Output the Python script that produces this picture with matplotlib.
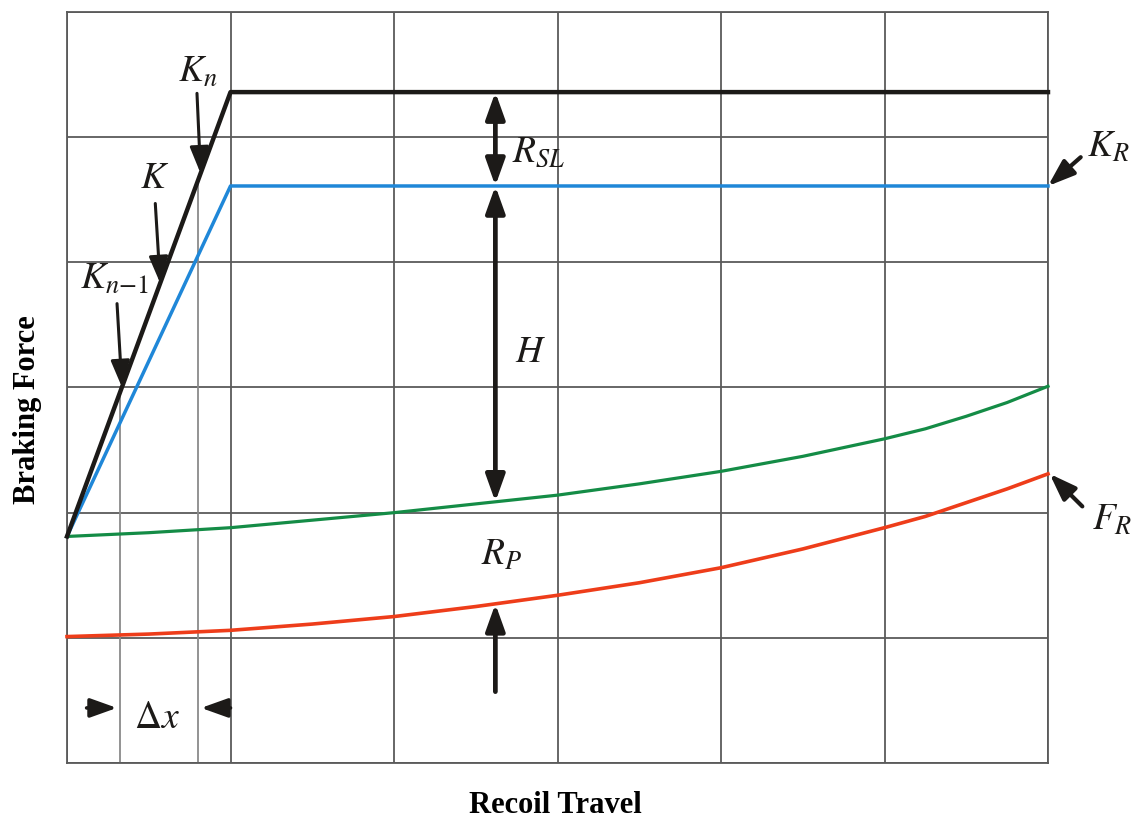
import numpy as np
import matplotlib
matplotlib.use('Agg')
import matplotlib.pyplot as plt

plt.rcParams['font.family'] = ['Liberation Serif', 'DejaVu Serif']
plt.rcParams['mathtext.fontset'] = 'stix'

# Recoil travel stations (grid units) and force levels
travel = [0, 0.5, 1, 1.5, 2, 2.5, 3, 3.5, 4, 4.5, 5, 5.25, 5.5, 5.75, 6]
green_force = [1.81, 1.84, 1.88, 1.94, 2.00, 2.07, 2.14, 2.23, 2.33, 2.45,
               2.59, 2.67, 2.77, 2.88, 3.01]
fr_force = [1.01, 1.03, 1.06, 1.11, 1.17, 1.25, 1.34, 1.44, 1.56, 1.71,
            1.88, 1.97, 2.08, 2.19, 2.31]

# Ramp-then-flat curves: start, knee, end
ramp_x = [0, 1.0, 6]
kn_force = [1.81, 5.36, 5.36]
kr_force = [1.81, 4.61, 4.61]

# Station lines bounding the step dx
dx_lines = [0.325, 0.80]
# x positions where the K_{n-1}, K, K_n pointers touch the upper ramp
k_tips = [0.336, 0.57, 0.817]
dim_x = 2.62          # x of the vertical dimension arrows

INK = '#1c1a18'
GRID = '#5a5a5a'

fig = plt.figure(figsize=(11.32, 8.22), dpi=100)
ax = fig.add_axes([67 / 1132, 59 / 822, 981 / 1132, 751 / 822])
ax.set_xlim(0, 6)
ax.set_ylim(0, 6)
ax.set_xticks(range(7))
ax.set_yticks(range(7))
ax.grid(True, color=GRID, lw=1.3, zorder=0)
ax.tick_params(length=0, labelbottom=False, labelleft=False)
for sp in ax.spines.values():
    sp.set_color(GRID)
    sp.set_linewidth(1.3)
ax.set_axisbelow(True)

# thin station lines for the dx step
tops = np.interp(dx_lines, ramp_x, kn_force)
ax.vlines(dx_lines, 0, tops, color='#8a8a8a', lw=1.3, zorder=1)

ax.plot(travel, fr_force, color='#ee3d1a', lw=2.6, zorder=3, clip_on=False)
ax.plot(travel, green_force, color='#148c46', lw=2.3, zorder=3, clip_on=False)
ax.plot(ramp_x, kr_force, color='#1f87d8', lw=2.5, zorder=4, clip_on=False)
ax.plot(ramp_x, kn_force, color=INK, lw=3.2, zorder=5, clip_on=False)


def arrow(xy_from, xy_to, style='-|>', lw=2.6):
    ax.annotate('', xy=xy_to, xytext=xy_from, annotation_clip=False,
                arrowprops=dict(arrowstyle=style + ',head_length=0.95,head_width=0.34',
                                color=INK, lw=lw, shrinkA=0, shrinkB=0,
                                mutation_scale=17), zorder=6)


# pointers onto the upper ramp
k_tails = [(0.306, 3.67), (0.54, 4.47), (0.795, 5.35)]
for (tx, ty), kx in zip(k_tails, k_tips):
    arrow((tx, ty), (kx, np.interp(kx, ramp_x, kn_force)), lw=2.2)

# dimension arrows at mid travel
arrow((dim_x, kn_force[-1]), (dim_x, kr_force[-1]), style='<|-|>', lw=3.4)
arrow((dim_x, kr_force[-1]), (dim_x, np.interp(dim_x, travel, green_force)),
      style='<|-|>', lw=3.4)
arrow((dim_x, 0.57), (dim_x, np.interp(dim_x, travel, fr_force)), lw=3.4)

# dx step arrows
arrow((0.12, 0.44), (dx_lines[0] - 0.02, 0.44), lw=2.6)
arrow((1.0, 0.44), (dx_lines[1] + 0.02, 0.44), lw=2.6)

# end-of-stroke pointers
arrow((6.2, 4.84), (6.0, kr_force[-1]), lw=3.0)
arrow((6.21, 2.05), (6.01, fr_force[-1]), lw=3.0)

MS = 27
labels = [
    (0.68, 5.44, r'$K_n$'),
    (0.446, 4.59, r'$K$'),
    (0.08, 3.79, r'$K_{n{-}1}$'),
    (2.72, 4.80, r'$R_{SL}$'),
    (2.74, 3.20, r'$H$'),
    (2.53, 1.58, r'$R_P$'),
    (0.41, 0.28, r'$\Delta x$'),
    (6.24, 4.84, r'$K_R$'),
    (6.27, 1.86, r'$F_R$'),
]
for lx, ly, s in labels:
    ax.text(lx, ly, s, fontsize=MS, ha='left', va='baseline', color=INK,
            clip_on=False, zorder=7)

fig.text(555 / 1132, 1 - 805 / 822, 'Recoil Travel', fontsize=22,
         fontweight='bold', ha='center', va='center')
fig.text(28 / 1132, 1 - 410 / 822, 'Braking Force', fontsize=22,
         fontweight='bold', ha='center', va='center', rotation=90)

fig.savefig('out.png', dpi=100, facecolor='white')
